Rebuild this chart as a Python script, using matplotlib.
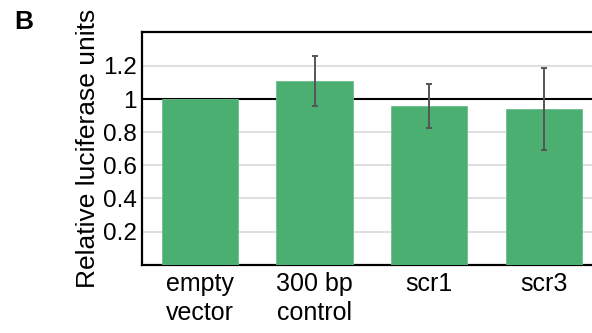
import numpy as np
import matplotlib.pyplot as plt

plt.rcParams['font.family'] = ['Liberation Sans', 'DejaVu Sans']

# Luciferase reporter data
categories = ["empty\nvector", "300 bp\ncontrol", "scr1", "scr3"]
means = [1.0, 1.11, 0.96, 0.94]
errors = [0.0, 0.152, 0.132, 0.25]
ytick_vals = [0.2, 0.4, 0.6, 0.8, 1.0, 1.2]
ytick_labels = ["0.2", "0.4", "0.6", "0.8", "1", "1.2"]

fig = plt.figure(figsize=(5.92, 3.33), dpi=100)
ax = fig.add_axes([0.240, 0.205, 0.762, 0.699])

x = np.arange(len(categories))
ax.bar(x, means, width=0.665, color="#4caf72", edgecolor="#6cc08c",
       linewidth=0.6, zorder=3)

# error bars only where there is spread
has_err = np.array(errors) > 0
ax.errorbar(x[has_err], np.array(means)[has_err], yerr=np.array(errors)[has_err],
            fmt="none", ecolor="#555555", elinewidth=1.4, capsize=2.5,
            capthick=1.4, zorder=4)

ax.axhline(1.0, color="black", lw=1.5, zorder=2)

ax.set_ylim(0, 1.405)
ax.set_xlim(-0.505, 3.43)
ax.set_yticks(ytick_vals)
ax.set_yticklabels(ytick_labels, fontsize=17.5)
ax.set_xticks(x)
ax.set_xticklabels(categories, fontsize=18, linespacing=1.3, va="top")
ax.tick_params(axis="y", length=0, pad=4)
ax.tick_params(axis="x", length=0, pad=5)

ax.yaxis.grid(True, color="#d9d9d9", lw=1.2, zorder=0)
ax.set_axisbelow(True)

for side in ["left", "top", "bottom"]:
    ax.spines[side].set_linewidth(1.6)
    ax.spines[side].set_color("black")
ax.spines["right"].set_visible(False)

ax.set_ylabel("Relative luciferase units", fontsize=19, labelpad=2)

fig.text(0.024, 0.97, "B", fontsize=19, fontweight="bold", va="top", ha="left")

fig.savefig("out.png", dpi=100)
